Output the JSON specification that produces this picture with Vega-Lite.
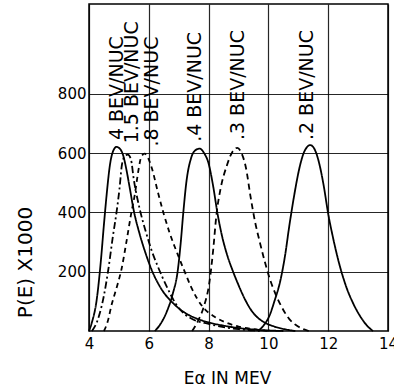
{
  "$schema": "https://vega.github.io/schema/vega-lite/v6.json",
  "autosize": {"type": "none"},
  "padding": {"left": 89, "top": 4, "right": 6, "bottom": 56},
  "width": 299,
  "height": 327,
  "background": "white",
  "config": {
    "view": {"stroke": "black", "strokeWidth": 1.5},
    "font": "DejaVu Sans"
  },
  "datasets": {
    "curves": [
      {"s": "4", "x": 4.0, "y": 0}, {"s": "4", "x": 4.1, "y": 30}, {"s": "4", "x": 4.25, "y": 100}, {"s": "4", "x": 4.4, "y": 240}, {"s": "4", "x": 4.5, "y": 360}, {"s": "4", "x": 4.6, "y": 470}, {"s": "4", "x": 4.7, "y": 560}, {"s": "4", "x": 4.8, "y": 605}, {"s": "4", "x": 4.92, "y": 621}, {"s": "4", "x": 5.04, "y": 614}, {"s": "4", "x": 5.15, "y": 590}, {"s": "4", "x": 5.25, "y": 545}, {"s": "4", "x": 5.35, "y": 490}, {"s": "4", "x": 5.5, "y": 405}, {"s": "4", "x": 5.7, "y": 325}, {"s": "4", "x": 5.9, "y": 260}, {"s": "4", "x": 6.1, "y": 205}, {"s": "4", "x": 6.4, "y": 145}, {"s": "4", "x": 6.8, "y": 95}, {"s": "4", "x": 7.2, "y": 62}, {"s": "4", "x": 7.6, "y": 42}, {"s": "4", "x": 8.0, "y": 29}, {"s": "4", "x": 8.5, "y": 18}, {"s": "4", "x": 9.0, "y": 10}, {"s": "4", "x": 9.5, "y": 5}, {"s": "4", "x": 10.0, "y": 2}, {"s": "4", "x": 10.5, "y": 0},
      {"s": "1.5", "x": 4.1, "y": 0}, {"s": "1.5", "x": 4.3, "y": 40}, {"s": "1.5", "x": 4.5, "y": 120}, {"s": "1.5", "x": 4.65, "y": 210}, {"s": "1.5", "x": 4.8, "y": 320}, {"s": "1.5", "x": 4.92, "y": 400}, {"s": "1.5", "x": 5.02, "y": 480}, {"s": "1.5", "x": 5.1, "y": 560}, {"s": "1.5", "x": 5.2, "y": 590}, {"s": "1.5", "x": 5.3, "y": 595}, {"s": "1.5", "x": 5.4, "y": 580}, {"s": "1.5", "x": 5.5, "y": 510}, {"s": "1.5", "x": 5.7, "y": 410}, {"s": "1.5", "x": 5.9, "y": 335}, {"s": "1.5", "x": 6.1, "y": 270}, {"s": "1.5", "x": 6.3, "y": 218}, {"s": "1.5", "x": 6.6, "y": 150}, {"s": "1.5", "x": 6.9, "y": 92}, {"s": "1.5", "x": 7.2, "y": 57}, {"s": "1.5", "x": 7.5, "y": 38}, {"s": "1.5", "x": 8.0, "y": 24}, {"s": "1.5", "x": 8.5, "y": 13}, {"s": "1.5", "x": 9.0, "y": 6}, {"s": "1.5", "x": 9.5, "y": 2}, {"s": "1.5", "x": 9.8, "y": 0},
      {"s": ".8", "x": 4.5, "y": 0}, {"s": ".8", "x": 4.62, "y": 30}, {"s": ".8", "x": 4.76, "y": 90}, {"s": ".8", "x": 4.92, "y": 145}, {"s": ".8", "x": 5.09, "y": 210}, {"s": ".8", "x": 5.25, "y": 300}, {"s": ".8", "x": 5.4, "y": 390}, {"s": ".8", "x": 5.54, "y": 465}, {"s": ".8", "x": 5.65, "y": 540}, {"s": ".8", "x": 5.75, "y": 588}, {"s": ".8", "x": 5.86, "y": 598}, {"s": ".8", "x": 5.97, "y": 585}, {"s": ".8", "x": 6.1, "y": 550}, {"s": ".8", "x": 6.3, "y": 470}, {"s": ".8", "x": 6.5, "y": 395}, {"s": ".8", "x": 6.7, "y": 330}, {"s": ".8", "x": 7.0, "y": 250}, {"s": ".8", "x": 7.2, "y": 200}, {"s": ".8", "x": 7.4, "y": 152}, {"s": ".8", "x": 7.6, "y": 112}, {"s": ".8", "x": 7.8, "y": 82}, {"s": ".8", "x": 8.2, "y": 48}, {"s": ".8", "x": 8.6, "y": 28}, {"s": ".8", "x": 9.0, "y": 15}, {"s": ".8", "x": 9.5, "y": 6}, {"s": ".8", "x": 10.0, "y": 0},
      {"s": ".4", "x": 6.2, "y": 0}, {"s": ".4", "x": 6.4, "y": 25}, {"s": ".4", "x": 6.6, "y": 65}, {"s": ".4", "x": 6.8, "y": 125}, {"s": ".4", "x": 6.97, "y": 205}, {"s": ".4", "x": 7.07, "y": 300}, {"s": ".4", "x": 7.15, "y": 395}, {"s": ".4", "x": 7.26, "y": 505}, {"s": ".4", "x": 7.42, "y": 585}, {"s": ".4", "x": 7.56, "y": 610}, {"s": ".4", "x": 7.7, "y": 615}, {"s": ".4", "x": 7.85, "y": 600}, {"s": ".4", "x": 8.0, "y": 565}, {"s": ".4", "x": 8.15, "y": 490}, {"s": ".4", "x": 8.3, "y": 395}, {"s": ".4", "x": 8.45, "y": 320}, {"s": ".4", "x": 8.6, "y": 263}, {"s": ".4", "x": 8.8, "y": 205}, {"s": ".4", "x": 9.0, "y": 155}, {"s": ".4", "x": 9.2, "y": 110}, {"s": ".4", "x": 9.4, "y": 74}, {"s": ".4", "x": 9.6, "y": 49}, {"s": ".4", "x": 9.85, "y": 30}, {"s": ".4", "x": 10.2, "y": 15}, {"s": ".4", "x": 10.6, "y": 5}, {"s": ".4", "x": 10.9, "y": 0},
      {"s": ".3", "x": 7.45, "y": 0}, {"s": ".3", "x": 7.65, "y": 35}, {"s": ".3", "x": 7.85, "y": 85}, {"s": ".3", "x": 8.02, "y": 160}, {"s": ".3", "x": 8.15, "y": 270}, {"s": ".3", "x": 8.26, "y": 390}, {"s": ".3", "x": 8.4, "y": 480}, {"s": ".3", "x": 8.6, "y": 555}, {"s": ".3", "x": 8.8, "y": 605}, {"s": ".3", "x": 8.96, "y": 618}, {"s": ".3", "x": 9.1, "y": 600}, {"s": ".3", "x": 9.25, "y": 550}, {"s": ".3", "x": 9.4, "y": 455}, {"s": ".3", "x": 9.55, "y": 370}, {"s": ".3", "x": 9.7, "y": 305}, {"s": ".3", "x": 9.85, "y": 245}, {"s": ".3", "x": 10.05, "y": 175}, {"s": ".3", "x": 10.25, "y": 122}, {"s": ".3", "x": 10.45, "y": 80}, {"s": ".3", "x": 10.7, "y": 40}, {"s": ".3", "x": 11.0, "y": 15}, {"s": ".3", "x": 11.35, "y": 0},
      {"s": ".2", "x": 9.65, "y": 0}, {"s": ".2", "x": 9.85, "y": 20}, {"s": ".2", "x": 10.05, "y": 55}, {"s": ".2", "x": 10.2, "y": 100}, {"s": ".2", "x": 10.4, "y": 170}, {"s": ".2", "x": 10.55, "y": 250}, {"s": ".2", "x": 10.7, "y": 355}, {"s": ".2", "x": 10.85, "y": 450}, {"s": ".2", "x": 11.05, "y": 555}, {"s": ".2", "x": 11.2, "y": 605}, {"s": ".2", "x": 11.4, "y": 627}, {"s": ".2", "x": 11.56, "y": 610}, {"s": ".2", "x": 11.7, "y": 565}, {"s": ".2", "x": 11.85, "y": 490}, {"s": ".2", "x": 12.0, "y": 395}, {"s": ".2", "x": 12.15, "y": 320}, {"s": ".2", "x": 12.4, "y": 215}, {"s": ".2", "x": 12.6, "y": 150}, {"s": ".2", "x": 12.85, "y": 90}, {"s": ".2", "x": 13.1, "y": 45}, {"s": ".2", "x": 13.3, "y": 18}, {"s": ".2", "x": 13.5, "y": 0}
    ],
    "labels": [
      {"x": 4.95, "y": 644, "t": "4 BEV/NUC"},
      {"x": 5.43, "y": 633, "t": "1.5 BEV/NUC"},
      {"x": 6.1, "y": 622, "t": ".8 BEV/NUC"},
      {"x": 7.55, "y": 638, "t": ".4 BEV/NUC"},
      {"x": 8.99, "y": 644, "t": ".3 BEV/NUC"},
      {"x": 11.28, "y": 644, "t": ".2 BEV/NUC"}
    ]
  },
  "layer": [
    {
      "data": {"name": "curves"},
      "mark": {"type": "line", "interpolate": "monotone", "color": "black", "strokeWidth": 1.8},
      "encoding": {
        "x": {
          "field": "x", "type": "quantitative",
          "scale": {"domain": [4, 14], "nice": false, "zero": false},
          "axis": {
            "values": [4, 6, 8, 10, 12, 14], "grid": true, "gridColor": "black", "gridOpacity": 0.85, "gridWidth": 1.2,
            "domain": false, "ticks": false, "labelPadding": 5, "labelFontSize": 15, "labelColor": "black",
            "labelFont": "DejaVu Sans", "labelFlush": false,
            "title": "Eα  IN  MEV", "titleFontSize": 17, "titleFontWeight": "normal", "titleColor": "black",
            "titleFont": "DejaVu Sans", "titlePadding": 19, "titleX": 138
          }
        },
        "y": {
          "field": "y", "type": "quantitative",
          "scale": {"domain": [0, 1103], "nice": false},
          "axis": {
            "values": [200, 400, 600, 800], "grid": true, "gridColor": "black", "gridOpacity": 0.85, "gridWidth": 1.2,
            "domain": false, "ticks": false, "labelPadding": 3, "labelFontSize": 15, "labelColor": "black",
            "labelFont": "DejaVu Sans",
            "title": "P(E) X1000", "titleFontSize": 20, "titleFontWeight": "normal", "titleColor": "black",
            "titleFont": "DejaVu Sans", "titleAngle": 270, "titleX": -64, "titleY": 258,
            "titleAlign": "center", "titleBaseline": "middle"
          }
        },
        "detail": {"field": "s"},
        "strokeDash": {
          "field": "s", "type": "nominal", "legend": null,
          "scale": {
            "domain": ["4", "1.5", ".8", ".4", ".3", ".2"],
            "range": [[1, 0], [7, 3, 2, 3], [5, 4], [1, 0], [6, 4], [1, 0]]
          }
        }
      }
    },
    {
      "data": {"name": "labels"},
      "mark": {"type": "text", "angle": 270, "align": "left", "baseline": "middle", "fontSize": 19, "font": "DejaVu Sans", "color": "black"},
      "encoding": {
        "x": {"field": "x", "type": "quantitative"},
        "y": {"field": "y", "type": "quantitative"},
        "text": {"field": "t"}
      }
    }
  ]
}
